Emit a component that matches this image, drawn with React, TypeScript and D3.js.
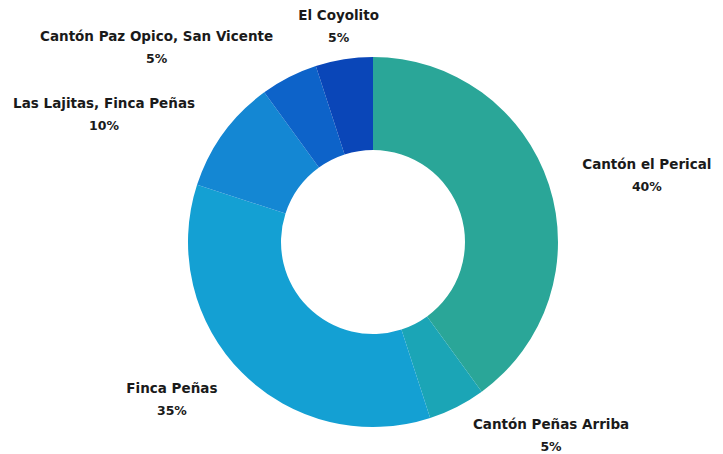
import { useEffect, useRef } from 'react'
import * as d3 from 'd3'

const categories = [
  'Cantón el Perical',
  'Cantón Peñas Arriba',
  'Finca Peñas',
  'Las Lajitas, Finca Peñas',
  'Cantón Paz Opico, San Vicente',
  'El Coyolito',
]
const values = [40, 5, 35, 10, 5, 5]
const colors = ['#2aa698', '#1ba5b6', '#14a0d3', '#1487d3', '#0d63c9', '#0a46b8']

export default function App() {
  const svgRef = useRef<SVGSVGElement>(null)

  useEffect(() => {
    if (!svgRef.current) return
    const width = 723
    const height = 454
    const cx = 373
    const cy = 242
    const outer = 185
    const inner = 92
    const labelR = 220

    const svg = d3.select(svgRef.current)
    svg.selectAll('*').remove()
    svg.attr('width', width).attr('height', height)

    const data = categories.map((c, i) => ({ name: c, value: values[i], color: colors[i] }))
    const pie = d3.pie<typeof data[0]>().value(d => d.value).sort(null)
    const arcs = pie(data)

    const arc = d3.arc<d3.PieArcDatum<typeof data[0]>>().innerRadius(inner).outerRadius(outer)
    const labelArc = d3.arc<d3.PieArcDatum<typeof data[0]>>().innerRadius(labelR).outerRadius(labelR)

    const g = svg.append('g').attr('transform', `translate(${cx},${cy})`)

    g.selectAll('path')
      .data(arcs)
      .join('path')
      .attr('d', arc)
      .attr('fill', d => d.data.color)

    const total = d3.sum(values)
    arcs.forEach(d => {
      const [lx, ly] = labelArc.centroid(d)
      const mid = (d.startAngle + d.endAngle) / 2
      const s = Math.sin(mid)
      // keep the last line inside the picture
      const y2 = Math.min(ly + 17, height - cy - 3)
      const t = g.append('g')
        .attr('font-family', '"DejaVu Sans", sans-serif')
        .attr('font-weight', 'bold')
        .attr('font-size', 13.5)
        .attr('fill', '#1a1a1a')
      const l1 = t.append('text').text(d.data.name).attr('y', y2 - 22)
      const l2 = t.append('text')
        .text(Math.round((d.data.value / total) * 100) + '%')
        .attr('y', y2)
        .attr('font-size', 12.5)
        .attr('text-anchor', 'middle')
      const w = (l1.node() as SVGTextElement).getComputedTextLength()
      let left = lx - w / 2
      if (Math.abs(s) > 0.3) left = s > 0 ? lx : lx - w
      l1.attr('x', left)
      l2.attr('x', left + w / 2)
    })
  }, [])

  return (
    <div>
      <svg ref={svgRef} style={{ position: 'absolute', left: 0, top: 0, background: '#fff' }} />
    </div>
  )
}
